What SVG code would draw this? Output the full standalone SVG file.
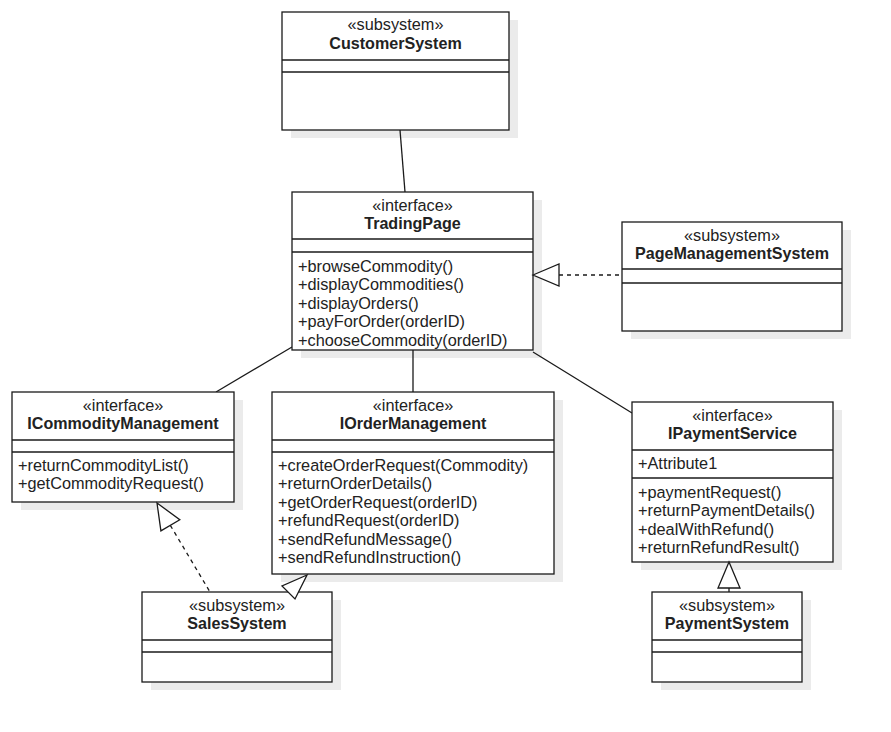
<svg xmlns="http://www.w3.org/2000/svg" width="891" height="732" viewBox="0 0 891 732">
<style>
text{font-family:"Liberation Sans",Arial,sans-serif;font-size:16.3px;fill:#222}
.c{text-anchor:middle}
.b{font-weight:bold;font-size:16.1px}
.box{fill:#fff;stroke:#1a1a1a;stroke-width:1.3}
.ln{stroke:#1a1a1a;stroke-width:1.3;fill:none}
.sh{fill:#ebebeb}
.dash{stroke-dasharray:4 4}
.tri{fill:#fff;stroke:#1a1a1a;stroke-width:1.3}
</style>
<rect width="891" height="732" fill="#fff"/>
<g id="shadows">
<rect class="sh" x="291" y="20" width="227" height="118"/>
<rect class="sh" x="301" y="200" width="241" height="158"/>
<rect class="sh" x="631" y="230" width="220" height="109"/>
<rect class="sh" x="21" y="400" width="222" height="110"/>
<rect class="sh" x="281" y="400" width="282" height="182"/>
<rect class="sh" x="641" y="410" width="201" height="160"/>
<rect class="sh" x="151" y="600" width="190" height="90"/>
<rect class="sh" x="661" y="600" width="150" height="90"/>
</g>
<g id="connectors">
<line class="ln" x1="400" y1="130" x2="405" y2="192"/>
<line class="ln" x1="292" y1="347" x2="216" y2="392"/>
<line class="ln" x1="413" y1="350" x2="413" y2="392"/>
<line class="ln" x1="533" y1="352" x2="632" y2="413"/>
<line class="ln dash" x1="559" y1="275" x2="622" y2="275"/>
<line class="ln dash" x1="170.3" y1="525.3" x2="210" y2="592"/>
<line class="ln" x1="729" y1="588" x2="729" y2="592"/>
</g>
<g id="CustomerSystem">
<rect class="box" x="282" y="12" width="227" height="118"/>
<line class="ln" x1="282" y1="60" x2="509" y2="60"/>
<line class="ln" x1="282" y1="72" x2="509" y2="72"/>
<text class="c" x="395.5" y="30">«subsystem»</text>
<text class="c b" x="395.5" y="49">CustomerSystem</text>
</g>
<g id="TradingPage">
<rect class="box" x="292" y="192" width="241" height="158"/>
<line class="ln" x1="292" y1="239" x2="533" y2="239"/>
<line class="ln" x1="292" y1="252" x2="533" y2="252"/>
<text class="c" x="412.5" y="211">«interface»</text>
<text class="c b" x="412.5" y="229">TradingPage</text>
<text x="298" y="271.5">+browseCommodity()</text>
<text x="298" y="290">+displayCommodities()</text>
<text x="298" y="308.6">+displayOrders()</text>
<text x="298" y="327.2">+payForOrder(orderID)</text>
<text x="298" y="345.8">+chooseCommodity(orderID)</text>
</g>
<g id="PageManagementSystem">
<rect class="box" x="622" y="222" width="220" height="109"/>
<line class="ln" x1="622" y1="269" x2="842" y2="269"/>
<line class="ln" x1="622" y1="283" x2="842" y2="283"/>
<text class="c" x="732" y="241">«subsystem»</text>
<text class="c b" x="732" y="259">PageManagementSystem</text>
</g>
<g id="ICommodityManagement">
<rect class="box" x="12" y="392" width="222" height="110"/>
<line class="ln" x1="12" y1="440" x2="234" y2="440"/>
<line class="ln" x1="12" y1="452" x2="234" y2="452"/>
<text class="c" x="123" y="411">«interface»</text>
<text class="c b" x="123" y="429">ICommodityManagement</text>
<text x="18" y="470.5">+returnCommodityList()</text>
<text x="18" y="489">+getCommodityRequest()</text>
</g>
<g id="IOrderManagement">
<rect class="box" x="272" y="392" width="282" height="182"/>
<line class="ln" x1="272" y1="440" x2="554" y2="440"/>
<line class="ln" x1="272" y1="452" x2="554" y2="452"/>
<text class="c" x="413" y="411">«interface»</text>
<text class="c b" x="413" y="429">IOrderManagement</text>
<text x="278" y="470.5">+createOrderRequest(Commodity)</text>
<text x="278" y="489">+returnOrderDetails()</text>
<text x="278" y="507.6">+getOrderRequest(orderID)</text>
<text x="278" y="526.2">+refundRequest(orderID)</text>
<text x="278" y="544.8">+sendRefundMessage()</text>
<text x="278" y="563.4">+sendRefundInstruction()</text>
</g>
<g id="IPaymentService">
<rect class="box" x="632" y="402" width="201" height="160"/>
<line class="ln" x1="632" y1="450" x2="833" y2="450"/>
<line class="ln" x1="632" y1="478" x2="833" y2="478"/>
<text class="c" x="732.5" y="421">«interface»</text>
<text class="c b" x="732.5" y="439">IPaymentService</text>
<text x="638" y="469">+Attribute1</text>
<text x="638" y="497.5">+paymentRequest()</text>
<text x="638" y="516">+returnPaymentDetails()</text>
<text x="638" y="534.6">+dealWithRefund()</text>
<text x="638" y="553.2">+returnRefundResult()</text>
</g>
<g id="SalesSystem">
<rect class="box" x="142" y="592" width="190" height="90"/>
<line class="ln" x1="142" y1="640" x2="332" y2="640"/>
<line class="ln" x1="142" y1="652" x2="332" y2="652"/>
<text class="c" x="237" y="611">«subsystem»</text>
<text class="c b" x="237" y="629">SalesSystem</text>
</g>
<g id="PaymentSystem">
<rect class="box" x="652" y="592" width="150" height="90"/>
<line class="ln" x1="652" y1="640" x2="802" y2="640"/>
<line class="ln" x1="652" y1="652" x2="802" y2="652"/>
<text class="c" x="727" y="611">«subsystem»</text>
<text class="c b" x="727" y="629">PaymentSystem</text>
</g>
<g id="arrowheads">
<polygon class="tri" points="533,275 559,264 559,286"/>
<polygon class="tri" points="157,503 179.8,519.7 160.9,530.9"/>
<polygon class="tri" points="307,575 282,586 295,599"/>
<polygon class="tri" points="729,562 718,588 740,588"/>
</g>
</svg>
